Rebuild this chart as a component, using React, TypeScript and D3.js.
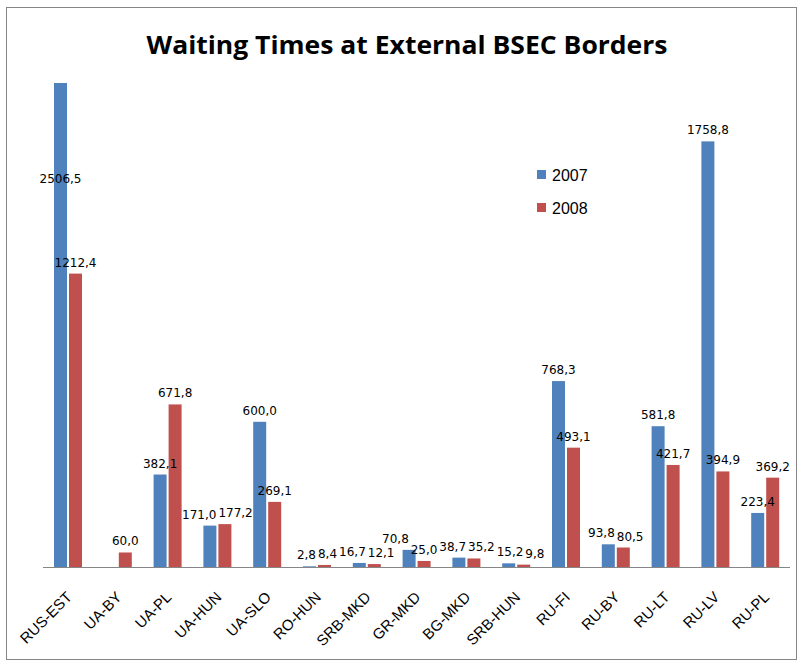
import React from 'react'
import * as d3 from 'd3'

const categories = ['RUS-EST', 'UA-BY', 'UA-PL', 'UA-HUN', 'UA-SLO', 'RO-HUN', 'SRB-MKD', 'GR-MKD', 'BG-MKD', 'SRB-HUN', 'RU-FI', 'RU-BY', 'RU-LT', 'RU-LV', 'RU-PL']
const years = ['2007', '2008']
const values2007: (number | null)[] = [2506.5, null, 382.1, 171.0, 600.0, 2.8, 16.7, 70.8, 38.7, 15.2, 768.3, 93.8, 581.8, 1758.8, 223.4]
const values2008: (number | null)[] = [1212.4, 60.0, 671.8, 177.2, 269.1, 8.4, 12.1, 25.0, 35.2, 9.8, 493.1, 80.5, 421.7, 394.9, 369.2]
const yMax = 2000

const colors: Record<string, string> = { '2007': '#4F81BD', '2008': '#C0504D' }

const W = 800
const H = 663
const plot = { left: 43, right: 790, top: 83, bottom: 567 }
const labelSize = 12

const fmt = (v: number) => v.toFixed(1).replace('.', ',')
// rough width of a label in DejaVu Sans
const textW = (s: string) => s.split('').reduce((a, ch) => a + (ch === ',' ? 0.318 : 0.636), 0) * labelSize

interface Label { key: string; text: string; x: number; y: number; w: number }

export default function App() {
  const x = d3.scaleBand<string>().domain(categories).range([plot.left, plot.right])
  const inner = d3.scaleBand<string>().domain(years).range([10, 40])
  const y = d3.scaleLinear().domain([0, yMax]).range([plot.bottom, plot.top])

  const series = [
    { year: '2007', values: values2007 },
    { year: '2008', values: values2008 },
  ]

  const labels: Label[] = []
  series.forEach(s => {
    categories.forEach((c, i) => {
      const v = s.values[i]
      if (v === null) return
      const t = fmt(v)
      const cx = (x(c) ?? 0) + (inner(s.year) ?? 0) + inner.bandwidth() / 2
      const ly = v > yMax ? y(yMax) + 100 : y(v) - 7
      labels.push({ key: s.year + c, text: t, x: cx, y: ly, w: textW(t) })
    })
  })

  // push colliding labels apart sideways
  const gap = 2
  for (let it = 0; it < 200; it++) {
    let moved = false
    for (let i = 0; i < labels.length; i++) {
      for (let j = 0; j < labels.length; j++) {
        if (i === j) continue
        const a = labels[i]
        const b = labels[j]
        if (a.x > b.x || Math.abs(a.y - b.y) >= 13) continue
        const overlap = (a.x + a.w / 2) - (b.x - b.w / 2) + gap
        if (overlap > 0.1) {
          a.x -= overlap / 2
          b.x += overlap / 2
          moved = true
        }
      }
    }
    if (!moved) break
  }

  const font = '"Liberation Sans", Arial, sans-serif'

  return (
    <svg width={W} height={H} style={{ position: 'absolute', left: 0, top: 0, background: '#fff' }}>
      <defs>
        <clipPath id="plotClip">
          <rect x={plot.left} y={plot.top} width={plot.right - plot.left} height={plot.bottom - plot.top} />
        </clipPath>
      </defs>
      <rect x={6.5} y={7.5} width={790} height={652} fill="#fff" stroke="#868686" strokeWidth={1} />

      <text x={407} y={54} textAnchor="middle" fontFamily='"Open Sans", sans-serif' fontWeight="bold"
        fontSize={25} textLength={521} lengthAdjust="spacingAndGlyphs" fill="#000">
        Waiting Times at External BSEC Borders
      </text>

      {/* bars */}
      <g clipPath="url(#plotClip)">
        {series.map(s =>
          categories.map((c, i) => {
            const v = s.values[i]
            if (v === null) return null
            const bx = (x(c) ?? 0) + (inner(s.year) ?? 0) + 1
            const top = y(v)
            return (
              <rect key={s.year + c} x={bx} y={top} width={inner.bandwidth() - 2}
                height={plot.bottom - top} fill={colors[s.year]} />
            )
          })
        )}
      </g>

      {/* axis line */}
      <line x1={plot.left} x2={plot.right} y1={plot.bottom + 0.5} y2={plot.bottom + 0.5} stroke="#868686" strokeWidth={1} />

      {/* data labels */}
      {labels.map(l => (
        <text key={'l' + l.key} x={l.x} y={l.y} textAnchor="middle" fontFamily='"DejaVu Sans", sans-serif'
          fontSize={labelSize} fill="#000">{l.text}</text>
      ))}

      {/* category labels */}
      {categories.map(c => {
        const cx = (x(c) ?? 0) + x.bandwidth() / 2 + 5
        return (
          <text key={'c' + c} transform={`translate(${cx},${plot.bottom + 31}) rotate(-45)`}
            textAnchor="end" fontFamily={font} fontSize={15} fill="#000">{c}</text>
        )
      })}

      {/* legend */}
      {years.map((yr, i) => (
        <g key={'lg' + yr} transform={`translate(537,${170 + i * 33})`}>
          <rect x={0} y={0} width={9} height={9} fill={colors[yr]} />
          <text x={15} y={11} fontFamily={font} fontSize={16} fill="#000">{yr}</text>
        </g>
      ))}
    </svg>
  )
}
